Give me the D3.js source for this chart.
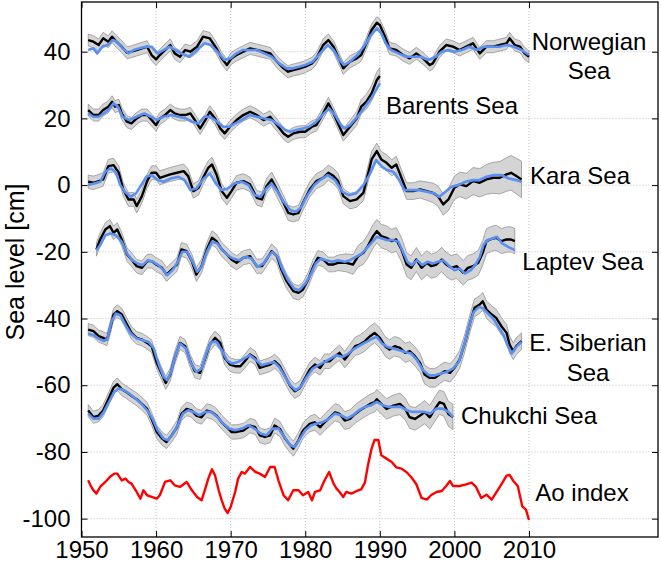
<!DOCTYPE html>
<html><head><meta charset="utf-8">
<script src="https://cdn.jsdelivr.net/npm/d3@7"></script>
<style>
html,body{margin:0;padding:0;background:#fff;}
svg{display:block;font-family:"Liberation Sans",Arial,Helvetica,sans-serif;}
</style></head>
<body>
<svg id="chart" width="661" height="565"></svg>
<script>
// ---------- data ----------
const xTicks = [1950,1960,1970,1980,1990,2000,2010];
const yTicks = [-100,-80,-60,-40,-20,0,20,40];
const yLabel = "Sea level [cm]";

const norwegianObs = [[1950.9,43.5],[1951.6,43],[1952.3,42],[1952.9,44],[1953.6,43],[1954.1,44.5],[1954.7,43],[1955.4,41.5],[1956.1,39.7],[1956.7,40],[1957.4,40.5],[1958.1,41],[1958.8,41.5],[1959.4,39],[1960,37.7],[1960.5,39],[1961.2,40.5],[1961.9,42],[1962.5,39.5],[1963.2,38.5],[1963.9,40.5],[1964.6,40],[1965.5,41.5],[1966.3,44.5],[1967.2,44],[1968.1,41],[1968.8,38],[1969.5,36],[1970.1,38],[1970.8,39],[1971.7,40],[1972.6,41],[1973.5,40.5],[1974.4,40],[1975.3,39.5],[1976.2,37],[1977.1,35],[1977.7,34],[1978.4,34.5],[1979.3,35],[1980,35.5],[1980.9,36.5],[1981.5,38],[1982.4,42],[1983.1,43.5],[1983.8,41.5],[1984.4,38.5],[1985.1,35],[1986,37],[1986.9,38],[1987.5,39],[1988.2,42.5],[1988.9,46.5],[1989.6,48.7],[1990,48],[1990.7,44.5],[1991.3,41],[1992.2,40.5],[1993.1,39],[1994,38],[1994.9,39.5],[1995.8,38],[1996.7,36],[1997.1,36.5],[1998,40],[1998.9,42],[1999.8,41.5],[2000.7,40.5],[2001.6,41.5],[2002.5,42.5],[2003.4,39.5],[2004.3,41.5],[2005.2,41.5],[2006.1,42],[2007,42.5],[2007.4,44],[2008.1,42],[2008.8,41.5],[2009.4,39.5],[2010,38.5]];
const norwegianModel = [[1950.9,40.5],[1951.6,41],[1952.1,39.5],[1952.8,41.5],[1953.5,42],[1954.2,43.5],[1954.8,43],[1955.5,41],[1956.3,39.5],[1957,40.5],[1957.8,41],[1958.6,41.5],[1959.4,41.5],[1960.2,39.5],[1961,40.5],[1961.8,41.5],[1962.6,40.5],[1963.4,39.5],[1964.4,38.5],[1965.5,40.5],[1966.5,42.5],[1967.3,42],[1968.2,40],[1969.2,37.5],[1970,38],[1970.8,39.5],[1971.6,40.5],[1972.5,40.5],[1973.5,40.5],[1974.5,39.5],[1975.5,38.5],[1976.5,36.5],[1977.5,35],[1978.3,35],[1979.2,35.5],[1980,36],[1981,37],[1982,39.5],[1983,42],[1983.8,40.5],[1984.6,37.5],[1985.2,36],[1986,37],[1987,39],[1988,42],[1988.8,45],[1989.6,47],[1990.2,45.5],[1990.8,42.5],[1991.5,40.5],[1992.5,39.5],[1993.5,38.5],[1994.5,38.5],[1995.5,38.5],[1996.5,37.5],[1997.5,38.5],[1998.3,40],[1999.2,40.5],[2000,40],[2001,40.5],[2002,41.5],[2003,40.5],[2004,41.5],[2005,41.5],[2006,41.5],[2007,42],[2008,41.5],[2009,40.5],[2010,39]];
const norwegianBand = [[1950,1.8],[2010,1.8]];

const barentsObs = [[1950.9,22.5],[1951.6,21],[1952.3,21],[1952.9,22.5],[1953.6,23.5],[1954.1,25],[1954.5,23.5],[1955,24],[1955.4,21.5],[1956.1,19],[1956.7,18.5],[1957.4,20],[1958.1,21],[1958.8,21],[1959.4,19.5],[1960,18],[1960.5,20],[1961.2,21],[1961.9,22.5],[1962.5,21.5],[1963.2,21],[1963.9,21],[1964.6,21.5],[1965.2,19.5],[1965.9,17],[1966.6,19.5],[1967.2,22],[1967.9,20],[1968.6,17],[1969.2,15.5],[1969.9,17.5],[1970.8,19.5],[1971.7,21],[1972.6,22],[1973.5,21],[1974.4,19.5],[1975.3,20.5],[1976.2,18],[1977.1,15.5],[1977.7,14.5],[1978.4,15.5],[1979.3,16],[1980,16],[1980.9,17.5],[1981.5,18],[1982.4,21.5],[1983.1,24.5],[1983.8,21.5],[1984.4,18.5],[1985.1,15],[1986,17.5],[1986.9,20],[1987.5,23.5],[1988.2,25],[1988.9,27.5],[1989.6,31.5],[1990,32.7]];
const barentsModel = [[1950.9,21.5],[1951.6,20.5],[1952.3,20.5],[1953,21.5],[1953.6,22.5],[1954.3,24.5],[1954.9,23.5],[1955.5,20.5],[1956.4,19.5],[1957.4,20.5],[1958.4,21.5],[1959.3,20.5],[1960.1,19.5],[1961,20.5],[1962,21],[1963,20.5],[1964,20],[1964.8,19],[1965.7,18.5],[1966.5,20.5],[1967.3,20.5],[1968.2,19],[1969,17.5],[1969.8,17.5],[1970.6,18.5],[1971.5,19.5],[1972.5,21],[1973.5,20.5],[1974.5,20],[1975.5,19.5],[1976.5,18],[1977.3,16.5],[1978,16],[1978.8,16.5],[1979.7,17],[1980.5,17.5],[1981.5,19],[1982.5,21.5],[1983.2,23],[1984,21],[1984.8,18],[1985.3,17],[1986,18],[1987,20.5],[1988,23.5],[1989,26.5],[1990,30.5]];
const barentsBand = [[1950,1.8],[1985,1.8],[1990,2.5]];

const karaObs = [[1950.9,1],[1951.6,0.7],[1952.3,1.2],[1952.9,1.7],[1953.6,5.7],[1954.3,6],[1955,3.7],[1955.6,-1.3],[1956.3,-4.3],[1957,-4.3],[1957.4,-6.3],[1958.1,-3.3],[1958.8,1.2],[1959.4,3.7],[1960,3.7],[1960.5,2.2],[1961.2,2.7],[1961.9,3.2],[1962.8,3.7],[1963.7,4.2],[1964.3,2.7],[1965,-1.8],[1965.7,-0.8],[1966.3,2.2],[1967,5.2],[1967.5,6.2],[1968.1,3.2],[1968.8,-1.8],[1969.5,-3.8],[1970.1,-1.8],[1970.8,0.7],[1971.7,1.2],[1972.6,0.2],[1973.5,-3.8],[1974.2,-4.3],[1974.8,-0.3],[1975.5,1.7],[1976.2,-1.3],[1977.1,-5.3],[1977.7,-8.3],[1978.4,-8.8],[1979.1,-8.3],[1979.7,-5.3],[1980.6,-1.3],[1981.5,1.2],[1982.4,2.2],[1983.1,3.7],[1983.8,2.7],[1984.4,1.2],[1985.1,-3.3],[1986,-4.8],[1986.9,-4.3],[1987.8,-2.3],[1988.9,7.7],[1989.6,10.2],[1990.2,7.7],[1990.9,6.7],[1991.6,5.2],[1992.2,6.2],[1992.9,2.2],[1993.6,-1.8],[1994.5,-1.8],[1995.4,-1.3],[1996.3,-1.8],[1997.1,-2.3],[1997.8,-3.3],[1998.5,-5.8],[1999.2,-4.3],[2000,-0.8],[2000.7,0.2],[2001.6,-0.3],[2002.5,1.2],[2003.4,0.7],[2004.3,1.7],[2005.2,2.2],[2006.1,2.2],[2007,3.2],[2007.6,3.7],[2008.3,2.7],[2009,1.7]];
const karaModel = [[1950.9,0],[1951.7,0.5],[1952.5,1],[1953.2,4],[1953.9,5],[1954.6,4],[1955.2,0],[1955.8,-2],[1956.6,-3.5],[1957.3,-2.5],[1958,0],[1958.7,2.5],[1959.4,3],[1960.2,1.5],[1961,1],[1962,2],[1963,2.5],[1963.8,1.5],[1964.6,-1.5],[1965.4,-1],[1966.4,2],[1967.2,3.5],[1968,0.5],[1968.8,-1.5],[1969.6,-1],[1970.5,0.5],[1971.5,1],[1972.4,0],[1973.2,-3],[1974,-3.5],[1974.8,-1],[1975.5,0.5],[1976.3,-2],[1977.1,-5],[1978,-7.5],[1978.8,-8],[1979.5,-6.5],[1980.3,-3],[1981.2,0],[1982,1.5],[1983,3],[1984,1.5],[1985,-2],[1985.8,-3],[1986.8,-2.5],[1987.8,0],[1988.6,3],[1989.5,7.5],[1990.3,5.5],[1991,4.5],[1991.8,4],[1992.6,1.5],[1993.3,-1.5],[1994.3,-1.5],[1995.3,-1.5],[1996.3,-2],[1997.3,-2.5],[1998,-3.5],[1998.8,-2],[1999.6,-0.5],[2000.5,0],[2001.5,1],[2002.5,1.5],[2003.3,1.5],[2004.3,2.5],[2005.3,3],[2006.3,3],[2007.3,2],[2008.3,1.5],[2009,1]];
const karaBand = [[1950,2],[1985,2.3],[1995,2.5],[2000,3.5],[2009,5.5]];

const laptevObs = [[1952,-19.3],[1952.5,-16.3],[1953.2,-13.3],[1953.8,-12.3],[1954.3,-14.3],[1954.8,-13.3],[1955.4,-16.3],[1956.1,-20.8],[1956.7,-22.3],[1957.4,-24.3],[1958.1,-24.8],[1958.8,-22.8],[1959.4,-22.8],[1960,-23.8],[1960.8,-24.8],[1961.4,-26.8],[1962.1,-25.3],[1962.8,-23.8],[1963.4,-19.3],[1964.1,-19.8],[1964.8,-22.8],[1965.4,-26.8],[1966.1,-24.3],[1966.8,-19.3],[1967.5,-15.8],[1968.1,-16.8],[1968.8,-19.3],[1969.5,-20.8],[1970.1,-22.3],[1970.8,-23.3],[1971.7,-21.8],[1972.6,-21.3],[1973.5,-24.3],[1974.2,-24.3],[1974.8,-22.3],[1975.5,-19.8],[1976.2,-21.3],[1976.8,-25.3],[1977.5,-28.8],[1978.4,-31.8],[1979.1,-32.3],[1979.7,-31.3],[1980.4,-28.3],[1981.1,-24.3],[1981.7,-21.8],[1982.4,-22.3],[1983.1,-23.8],[1983.8,-23.8],[1984.4,-23.3],[1985.5,-23.3],[1986.4,-23.8],[1987.1,-21.3],[1987.8,-20.3],[1988.4,-18.3],[1989.1,-15.3],[1989.6,-13.8],[1990.2,-15.3],[1990.9,-15.8],[1991.6,-16.8],[1992.2,-16.3],[1992.9,-19.3],[1993.6,-23.8],[1994.2,-24.8],[1994.9,-22.3],[1995.6,-24.8],[1996.3,-23.3],[1996.9,-24.3],[1997.6,-23.8],[1998.3,-22.3],[1998.9,-23.8],[1999.6,-24.8],[2000.3,-24.3],[2001.2,-26.3],[2001.8,-24.8],[2002.5,-24.3],[2003.2,-23.3],[2003.8,-20.3],[2004.3,-16.8],[2005,-16.1],[2005.6,-15.8],[2006.3,-16.8],[2007,-16.3],[2007.6,-16.3],[2008.1,-16.8]];
const laptevModel = [[1952,-19.5],[1952.5,-18],[1953.2,-15],[1953.9,-14.5],[1954.6,-15],[1955.4,-17],[1956.1,-20.5],[1956.8,-22.5],[1957.5,-23.5],[1958.2,-24],[1958.9,-22.5],[1959.6,-23],[1960.3,-24],[1961,-25.5],[1961.5,-27],[1962.2,-25.5],[1962.9,-23],[1963.5,-20],[1964.2,-20],[1964.9,-23],[1965.5,-26],[1966.1,-24.5],[1966.8,-20],[1967.5,-17],[1968.2,-17.5],[1968.9,-19.5],[1969.6,-21],[1970.3,-22],[1971.2,-22.5],[1972,-21.5],[1972.8,-22],[1973.6,-24.5],[1974.4,-23.5],[1975,-21.5],[1975.6,-20],[1976.3,-21.5],[1977,-25.5],[1977.7,-28.5],[1978.5,-31],[1979.2,-31.5],[1980,-29.5],[1980.7,-27],[1981.4,-23.5],[1982.1,-22],[1982.8,-22.5],[1983.6,-23],[1984.4,-22.5],[1985.3,-23],[1986,-22.5],[1986.8,-21.5],[1987.6,-20.5],[1988.4,-18.5],[1989,-17],[1989.6,-15.5],[1990.3,-16],[1991,-16.5],[1991.8,-16.5],[1992.5,-17],[1993.1,-20],[1993.7,-23],[1994.3,-24],[1995,-22.5],[1995.7,-24],[1996.4,-23],[1997.1,-23.5],[1997.8,-23],[1998.5,-22.5],[1999.2,-24],[2000,-25.5],[2000.7,-25],[2001.4,-26.5],[2002.2,-25.5],[2002.8,-24],[2003.4,-21.5],[2003.9,-18],[2004.4,-16.5],[2005.1,-16],[2005.7,-15.5],[2006.4,-17.5],[2007.2,-18.5],[2008.1,-19.5]];
const laptevBand = [[1950,2],[1984,2.2],[1988,3.5],[2009,3.8]];

const siberianObs = [[1950.9,-43.3],[1951.6,-43.8],[1952.3,-45.3],[1952.9,-45.8],[1953.4,-46.3],[1953.8,-43.3],[1954.3,-38.8],[1954.8,-37.8],[1955.4,-38.8],[1956.1,-41.8],[1956.7,-44.3],[1957.4,-45.8],[1958.1,-46.3],[1958.8,-47.3],[1959.4,-48.3],[1960.1,-53.3],[1960.8,-56.8],[1961.3,-59.3],[1961.9,-56.8],[1962.5,-51.8],[1963.2,-47.3],[1963.9,-48.3],[1964.6,-52.8],[1965.2,-55.8],[1965.9,-56.3],[1966.6,-51.8],[1967.2,-47.8],[1967.9,-45.8],[1968.6,-47.3],[1969.2,-51.8],[1969.9,-53.8],[1970.6,-54.3],[1971.3,-54.3],[1971.9,-52.8],[1972.6,-50.8],[1973.3,-51.8],[1973.9,-54.8],[1974.6,-54.3],[1975.3,-53.8],[1975.9,-52.8],[1976.6,-54.3],[1977.3,-57.3],[1978,-60.3],[1978.6,-61.8],[1979.3,-60.8],[1980,-57.8],[1980.6,-55.3],[1981.3,-53.8],[1982,-54.8],[1982.6,-52.8],[1983.3,-52.8],[1984,-51.3],[1984.6,-50.3],[1985.3,-52.3],[1986,-50.3],[1986.7,-48.3],[1987.3,-47.8],[1988,-46.8],[1988.7,-45.3],[1989.3,-44.3],[1990,-45.8],[1990.7,-48.3],[1991.3,-49.3],[1992,-48.3],[1992.7,-48.8],[1993.4,-50.3],[1994,-49.8],[1994.7,-51.3],[1995.4,-53.3],[1996,-56.8],[1996.7,-57.8],[1997.4,-57.8],[1998,-56.8],[1998.7,-55.8],[1999.4,-56.3],[2000,-54.8],[2000.7,-52.3],[2001.4,-47.3],[2002.1,-41.3],[2002.7,-36.8],[2003.4,-35.8],[2003.8,-34.8],[2004.3,-37.3],[2005,-38.8],[2005.6,-39.8],[2006.3,-42.3],[2007,-44.3],[2007.4,-47.8],[2007.9,-49.8],[2008.3,-48.3],[2009,-46.8]];
const siberianModel = [[1950.9,-44.5],[1951.6,-45],[1952.3,-46],[1953,-46.8],[1953.5,-46],[1954,-41],[1954.6,-38.5],[1955.2,-39],[1955.9,-42],[1956.6,-44.5],[1957.4,-46],[1958.2,-46.5],[1959,-47],[1959.7,-49],[1960.4,-54],[1961,-57.5],[1961.5,-58.5],[1962,-56],[1962.6,-51],[1963.2,-47.5],[1964,-49],[1964.7,-53.5],[1965.4,-56],[1966.1,-55],[1966.8,-50],[1967.4,-47],[1968.1,-47],[1968.8,-49.5],[1969.5,-52.5],[1970.2,-53.5],[1971,-53],[1971.8,-52],[1972.6,-51],[1973.4,-52.5],[1974.2,-54],[1975,-53.5],[1975.8,-53],[1976.5,-54.5],[1977.3,-57.5],[1978,-60],[1978.7,-61.5],[1979.4,-60.5],[1980.2,-57.5],[1981,-55],[1981.8,-54],[1982.6,-53],[1983.4,-52],[1984.2,-51],[1985,-51.5],[1985.8,-50.5],[1986.6,-49],[1987.4,-48],[1988.2,-47],[1989,-46],[1989.6,-45.5],[1990.3,-47.5],[1991,-48.5],[1991.8,-49],[1992.6,-49.5],[1993.4,-50],[1994.2,-50.5],[1995,-52.5],[1995.8,-55.5],[1996.6,-57],[1997.4,-57],[1998.2,-56.5],[1999,-56],[1999.8,-55],[2000.6,-53],[2001.3,-48],[2002,-42],[2002.6,-38],[2003.3,-36.5],[2003.9,-37],[2004.5,-38.5],[2005.2,-40],[2005.9,-42.5],[2006.6,-45],[2007.2,-48.5],[2007.7,-50.5],[2008.3,-48.5],[2009,-47]];
const siberianBand = [[1950,1.8],[1984,2.2],[1988,3],[2009,2.5]];

const chukchiObs = [[1950.9,-67.6],[1951.6,-69.6],[1952.3,-69.1],[1952.9,-67.6],[1953.6,-64.2],[1954.3,-60.7],[1954.8,-59.7],[1955.4,-61.2],[1956.1,-62.2],[1956.7,-63.2],[1957.4,-64.2],[1958.1,-65.6],[1958.8,-67.1],[1959.4,-70.1],[1960.1,-74],[1960.8,-76],[1961.4,-77],[1962.1,-75],[1962.8,-72.6],[1963.4,-68.6],[1964.1,-67.1],[1964.8,-67.6],[1965.4,-69.1],[1966.1,-69.6],[1966.8,-67.6],[1967.5,-68.1],[1968.1,-69.1],[1968.8,-71.1],[1969.5,-72.6],[1970.1,-74],[1970.8,-74],[1971.7,-73.6],[1972.6,-72.1],[1973.3,-72.6],[1973.9,-75],[1974.6,-75.5],[1975.3,-75],[1975.9,-72.1],[1976.6,-73.1],[1977.3,-76],[1978,-78],[1978.4,-79],[1979.1,-76.5],[1979.7,-73.6],[1980.6,-71.6],[1981.3,-71.1],[1982,-72.6],[1982.6,-71.1],[1983.3,-69.6],[1984,-68.1],[1984.6,-68.6],[1985.3,-70.6],[1986,-70.1],[1986.7,-68.6],[1987.3,-67.6],[1988,-66.6],[1988.7,-65.6],[1989.3,-65.1],[1989.6,-64.2],[1990.2,-65.6],[1990.9,-67.1],[1991.8,-66.1],[1992.7,-65.6],[1993.4,-67.1],[1994,-69.6],[1994.7,-70.1],[1995.4,-69.1],[1996,-68.1],[1996.7,-69.6],[1997.4,-67.1],[1998,-65.1],[1998.6,-65.6],[1999.2,-68.6],[1999.8,-69.5]];
const chukchiModel = [[1950.9,-68.5],[1951.6,-70],[1952.3,-70],[1953,-68],[1953.7,-65],[1954.4,-62],[1955,-61],[1955.7,-61.5],[1956.4,-62.5],[1957.2,-64],[1958,-65.5],[1958.8,-67.5],[1959.5,-70],[1960.2,-73.5],[1961,-76],[1961.6,-76.5],[1962.3,-74.5],[1963,-71.5],[1963.6,-68.5],[1964.3,-67.5],[1965,-68],[1965.8,-69],[1966.6,-68],[1967.4,-68],[1968.2,-69.5],[1969,-71.5],[1969.8,-73],[1970.6,-73.5],[1971.5,-73],[1972.4,-72],[1973.2,-73],[1974,-74.5],[1974.8,-75],[1975.6,-73],[1976.4,-73],[1977.2,-75.5],[1978,-78],[1978.6,-78.5],[1979.3,-76],[1980,-73.5],[1980.8,-72],[1981.6,-71.5],[1982.4,-71],[1983.2,-70],[1984,-68.5],[1984.8,-69],[1985.6,-70],[1986.4,-69],[1987.2,-67.5],[1988,-66.5],[1988.8,-66],[1989.6,-65],[1990.4,-66],[1991.2,-66.5],[1992,-66.5],[1992.8,-66.5],[1993.6,-67.5],[1994.4,-68],[1995.2,-68],[1996,-68],[1996.8,-68.5],[1997.6,-67],[1998.4,-67],[1999.2,-68],[1999.8,-69.5]];
const chukchiBand = [[1950,1.8],[1980,2.3],[1990,3],[1999.8,3.8]];

const aoIndex = [[1950.9,-88.5],[1951.2,-90],[1951.6,-91.5],[1952,-92.5],[1952.5,-90.5],[1953.2,-89],[1953.8,-87.5],[1954.4,-86.5],[1954.8,-86.5],[1955.4,-88.5],[1955.9,-88],[1956.3,-89],[1956.7,-89.5],[1957.4,-92],[1957.9,-94],[1958.3,-91.5],[1958.8,-93],[1959.4,-93.5],[1960.1,-94],[1960.5,-93],[1961.2,-89],[1961.9,-88.5],[1962.5,-90],[1963.2,-90.5],[1964.1,-89],[1964.8,-91.5],[1965.5,-93.5],[1966.1,-94.5],[1966.6,-91],[1967,-88],[1967.5,-85.2],[1967.9,-87],[1968.4,-91.5],[1968.8,-94.5],[1969.2,-97],[1969.6,-98.3],[1970,-96.5],[1970.6,-92],[1971,-88],[1971.5,-86],[1971.9,-86.5],[1972.6,-84.5],[1973.3,-86],[1973.9,-86.5],[1974.6,-87.5],[1975.3,-84.5],[1975.9,-84.5],[1976.4,-88.5],[1977.1,-93],[1977.7,-94.5],[1978.4,-91.5],[1979.1,-91.5],[1979.7,-93],[1980.4,-92],[1980.9,-94.5],[1981.3,-92],[1982,-91.5],[1982.6,-88.5],[1983.2,-86],[1983.8,-89.5],[1984.2,-91],[1984.6,-92],[1985.1,-93.5],[1985.5,-92],[1986.2,-92.5],[1986.9,-91.7],[1987.5,-91.2],[1988,-89.2],[1988.4,-84.1],[1988.9,-79],[1989.3,-76.4],[1989.8,-76.4],[1990.2,-81],[1990.9,-82],[1991.6,-83],[1992.2,-84.6],[1992.9,-85],[1993.6,-86.1],[1994.2,-87.5],[1994.9,-89.7],[1995.6,-93.8],[1996.3,-94.3],[1996.9,-92.9],[1997.6,-92],[1998.3,-91.7],[1998.9,-90.2],[1999.4,-88.7],[1999.8,-90.2],[2000.7,-90.2],[2001.6,-89.7],[2002.3,-89.2],[2002.9,-90.5],[2003.6,-93.8],[2004.3,-92.8],[2005,-94.3],[2005.6,-92.2],[2006.3,-89.7],[2007,-87.1],[2007.4,-86.9],[2007.9,-88.7],[2008.5,-90.2],[2009.1,-96.3],[2009.6,-97.3],[2010,-100.4]];

const seriesNames = ["Norwegian Sea","Barents Sea","Kara Sea","Laptev Sea","E. Siberian Sea","Chukchi Sea"];
const seriesObs = [norwegianObs, barentsObs, karaObs, laptevObs, siberianObs, chukchiObs];
const seriesModel = [norwegianModel, barentsModel, karaModel, laptevModel, siberianModel, chukchiModel];
const seriesBand = [norwegianBand, barentsBand, karaBand, laptevBand, siberianBand, chukchiBand];
const aoName = "Ao index";

// ---------- layout ----------
const svg = d3.select("#chart");
const L = 81.5, R = 658, T = 2, B = 537;
const x = d3.scaleLinear().domain([1950, 2027.3]).range([L, R]);
const y = d3.scaleLinear().domain([-105.5, 54.9]).range([B, T]);

// grid
const grid = svg.append("g");
grid.selectAll(".gx").data(xTicks).join("line")
  .attr("x1", d => x(d)).attr("x2", d => x(d)).attr("y1", T).attr("y2", B)
  .attr("stroke", "#b0b0b0").attr("stroke-width", 0.8).attr("stroke-dasharray", "1,2");
grid.selectAll(".gy").data(yTicks).join("line")
  .attr("x1", L).attr("x2", R).attr("y1", d => y(d)).attr("y2", d => y(d))
  .attr("stroke", "#b0b0b0").attr("stroke-width", 0.8).attr("stroke-dasharray", "1,2");

const line = d3.line().x(d => x(d[0])).y(d => y(d[1]));

seriesObs.forEach((obs, i) => {
  const bw = d3.scaleLinear().domain(seriesBand[i].map(d => d[0])).range(seriesBand[i].map(d => d[1])).clamp(true);
  const area = d3.area().x(d => x(d[0])).y0(d => y(d[1] - bw(d[0]))).y1(d => y(d[1] + bw(d[0])));
  svg.append("path").datum(obs).attr("d", area)
    .attr("fill", "#d4d4d4").attr("stroke", "#8a8a8a").attr("stroke-width", 0.7);
});
seriesObs.forEach((obs) => {
  svg.append("path").datum(obs).attr("d", line)
    .attr("fill", "none").attr("stroke", "#000").attr("stroke-width", 2.4).attr("stroke-linejoin", "round");
});
seriesModel.forEach((m) => {
  svg.append("path").datum(m).attr("d", line)
    .attr("fill", "none").attr("stroke", "#5b8ff0").attr("stroke-width", 2.6).attr("stroke-linejoin", "round");
});
svg.append("path").datum(aoIndex).attr("d", line)
  .attr("fill", "none").attr("stroke", "#ff0000").attr("stroke-width", 2.4).attr("stroke-linejoin", "round");

// axes (box with inward ticks)
const tl = 6;
const fmt = d => String(d);
const xb = d3.axisBottom(x).tickValues(xTicks).tickFormat(fmt).tickSizeInner(-tl).tickSizeOuter(0);
const gxb = svg.append("g").attr("transform", `translate(0,${B})`).call(xb);
const xt = d3.axisTop(x).tickValues(xTicks).tickFormat("").tickSizeInner(-tl).tickSizeOuter(0);
const gxt = svg.append("g").attr("transform", `translate(0,${T})`).call(xt);
const yl = d3.axisLeft(y).tickValues(yTicks).tickFormat(fmt).tickSizeInner(-tl).tickSizeOuter(0).tickPadding(tl + 5);
const gyl = svg.append("g").attr("transform", `translate(${L},0)`).call(yl);
const yr = d3.axisRight(y).tickValues(yTicks).tickFormat("").tickSizeInner(-tl).tickSizeOuter(0);
const gyr = svg.append("g").attr("transform", `translate(${R},0)`).call(yr);
[gxb, gxt, gyl, gyr].forEach(g => {
  g.select(".domain").remove();
  g.selectAll(".tick line").attr("stroke", "#000").attr("stroke-width", 1);
  g.selectAll("text").attr("font-size", 24).attr("font-family", '"Liberation Sans",Arial,sans-serif').attr("fill", "#000");
});
gxb.selectAll("text").attr("y", 21).attr("dy", 0);
svg.append("rect").attr("x", L).attr("y", T).attr("width", R - L).attr("height", B - T)
  .attr("fill", "none").attr("stroke", "#000").attr("stroke-width", 1.3);

// y label
svg.append("text").attr("transform", `translate(24,262) rotate(-90)`)
  .attr("text-anchor", "middle").attr("font-size", 25).text(yLabel);

// series labels
const labelSpecs = [
  {lines: ["Norwegian", "Sea"], cx: 589, y0: 50, dy: 28.5},
  {lines: ["Barents Sea"], cx: 452, y0: 114, dy: 0},
  {lines: ["Kara Sea"], cx: 580, y0: 184, dy: 0},
  {lines: ["Laptev Sea"], cx: 583, y0: 270, dy: 0},
  {lines: ["E. Siberian", "Sea"], cx: 588, y0: 351, dy: 29.5},
  {lines: ["Chukchi Sea"], cx: 529, y0: 424, dy: 0},
  {lines: [aoName], cx: 582, y0: 501, dy: 0}
];
labelSpecs.forEach(s => {
  const t = svg.append("text").attr("text-anchor", "middle").attr("font-size", 24);
  s.lines.forEach((ln, k) => {
    t.append("tspan").attr("x", s.cx).attr("y", s.y0 + k * s.dy).text(ln);
  });
});
</script>
</body></html>
